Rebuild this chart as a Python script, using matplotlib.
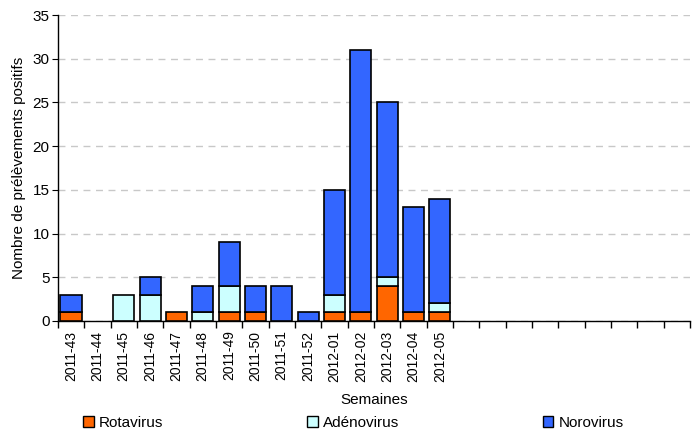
import numpy as np
import matplotlib.pyplot as plt
from matplotlib.patches import Patch

plt.rcParams['font.family'] = ['Liberation Sans', 'DejaVu Sans']

semaines = ["2011-43", "2011-44", "2011-45", "2011-46", "2011-47", "2011-48",
            "2011-49", "2011-50", "2011-51", "2011-52", "2012-01", "2012-02",
            "2012-03", "2012-04", "2012-05"] + [""] * 9
rotavirus = [1, 0, 0, 0, 1, 0, 1, 1, 0, 0, 1, 1, 4, 1, 1] + [0] * 9
adenovirus = [0, 0, 3, 3, 0, 1, 3, 0, 0, 0, 2, 0, 1, 0, 1] + [0] * 9
norovirus = [2, 0, 0, 2, 0, 3, 5, 3, 4, 1, 12, 30, 20, 12, 12] + [0] * 9

c_rota = "#FF6600"
c_adeno = "#CCFFFF"
c_noro = "#3366FF"

fig = plt.figure(figsize=(6.97, 4.33), dpi=100)
ax = fig.add_axes([0.083, 0.259, 0.907, 0.706])

x = np.arange(len(semaines))
r = np.array(rotavirus)
a = np.array(adenovirus)
n = np.array(norovirus)
w = 0.8
kw = dict(width=w, edgecolor="black", linewidth=1.2, zorder=3)
ax.bar(x, np.where(r > 0, r, np.nan), color=c_rota, **kw)
ax.bar(x, np.where(a > 0, a, np.nan), bottom=r, color=c_adeno, **kw)
ax.bar(x, np.where(n > 0, n, np.nan), bottom=r + a, color=c_noro, **kw)

ax.set_xlim(-0.5, len(semaines) - 0.5)
ax.set_ylim(0, 35)
ax.set_yticks(range(0, 36, 5))
ax.yaxis.grid(True, color="#c8c8c8", linestyle=(0, (5, 4)), linewidth=1, zorder=0)

ax.set_xticks(x)
ax.set_xticklabels(semaines, rotation=90, fontsize=10)
ax.set_xticks(np.arange(-0.5, len(semaines)), minor=True)
ax.tick_params(axis="x", which="major", length=0, pad=7)
ax.tick_params(axis="x", which="minor", length=5, width=1, direction="out")
ax.tick_params(axis="y", length=4, labelsize=11, pad=2)

for s in ["top", "right"]:
    ax.spines[s].set_visible(False)
ax.spines["left"].set_linewidth(1)
ax.spines["bottom"].set_linewidth(1)

ax.set_ylabel("Nombre de prélèvements positifs", fontsize=11, labelpad=5)
ax.set_xlabel("Semaines", fontsize=11, labelpad=8)

handles = [Patch(facecolor=c_rota, edgecolor="black", label="Rotavirus"),
           Patch(facecolor=c_adeno, edgecolor="black", label="Adénovirus"),
           Patch(facecolor=c_noro, edgecolor="black", label="Norovirus")]
fig.legend(handles=handles, loc="lower left", ncol=3, mode="expand",
           bbox_to_anchor=(0.119, 0.008, 0.776, 0.05), frameon=False,
           fontsize=11, handlelength=0.7, handleheight=0.7,
           handletextpad=0.35, borderpad=0, borderaxespad=0)

fig.savefig("out.png", dpi=100)
